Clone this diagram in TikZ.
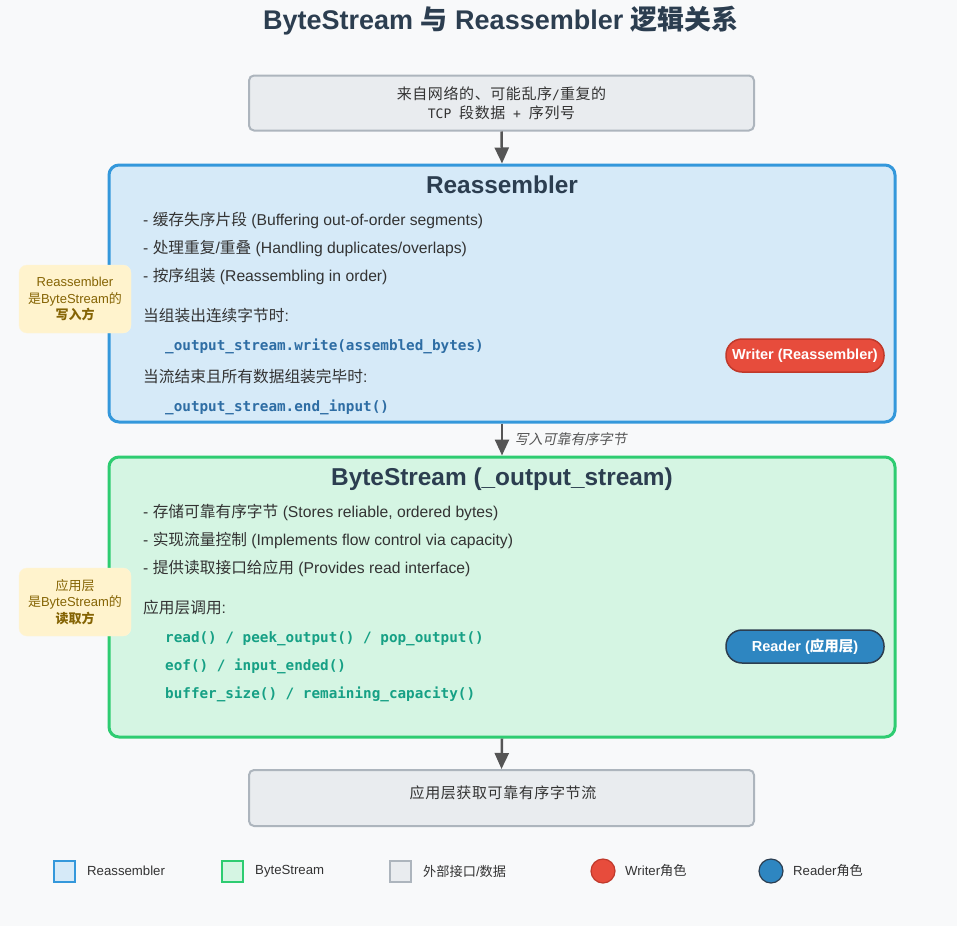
\documentclass[tikz,border=0pt]{standalone}
\usepackage{fontspec}
\setmainfont{Liberation Sans}
\setmonofont{DejaVu Sans Mono}
\newfontfamily\cjk{Noto Sans CJK SC}
\newfontfamily\cjkmono{Noto Sans CJK SC}[LetterSpace=4]
\newfontfamily\cjkit{Noto Sans CJK SC}[FakeSlant=0.2]
\newcommand\zh[1]{{\cjk #1}}
\newcommand\zm[1]{{\fontsize{15}{19}\cjkmono #1}}
\usetikzlibrary{arrows.meta}
\definecolor{bgc}{HTML}{F8F9FA}
\definecolor{titlec}{HTML}{2C3E50}
\definecolor{extf}{HTML}{E9ECEF}
\definecolor{extb}{HTML}{ADB5BD}
\definecolor{reaf}{HTML}{D6EAF8}
\definecolor{reab}{HTML}{3498DB}
\definecolor{bsf}{HTML}{D5F5E3}
\definecolor{bsb}{HTML}{2ECC71}
\definecolor{notef}{HTML}{FFF3CD}
\definecolor{notec}{HTML}{856404}
\definecolor{wrf}{HTML}{E74C3C}
\definecolor{wrb}{HTML}{C0392B}
\definecolor{rdf}{HTML}{2E86C1}
\definecolor{rdb}{HTML}{2C3E50}
\definecolor{arrc}{HTML}{555555}
\definecolor{bodyc}{HTML}{333333}
\definecolor{codeblue}{HTML}{2E6DA4}
\definecolor{codegreen}{HTML}{16A085}
\tikzset{
  extbox/.style={draw=extb, fill=extf, line width=2pt, rounded corners=5pt, minimum width=505pt, inner sep=0pt},
  bigbox/.style={line width=3pt, rounded corners=10pt, minimum width=786pt, inner sep=0pt},
  secttl/.style={font=\fontsize{24.4}{28}\selectfont\bfseries, text=titlec, anchor=base},
  txt/.style={font=\fontsize{15.7}{18}\selectfont, text=bodyc, anchor=base west, inner sep=0pt},
  codeb/.style={font=\ttfamily\bfseries\fontsize{14.3}{18}\selectfont, text=codeblue, anchor=base west, inner sep=0pt},
  codeg/.style={font=\ttfamily\bfseries\fontsize{14.3}{18}\selectfont, text=codegreen, anchor=base west, inner sep=0pt},
  pillbox/.style={line width=1.5pt, rounded corners=16pt, minimum width=158pt, minimum height=33pt, inner sep=0pt, text=white, font=\fontsize{14.5}{17}\selectfont\bfseries},
  notebox/.style={fill=notef, draw=notef!80!white, rounded corners=8pt, minimum width=112pt, minimum height=68pt, inner sep=0pt, align=center, text=notec, font=\fontsize{13}{16.5}\selectfont},
  arr/.style={-{Triangle[length=16pt,width=14pt]}, line width=2.5pt, draw=arrc},
  legsq/.style={line width=2pt, minimum width=21pt, minimum height=21pt, inner sep=0pt},
  legdot/.style={circle, line width=1.2pt, minimum size=24pt, inner sep=0pt},
  legtxt/.style={font=\fontsize{13.2}{16}\selectfont, text=bodyc, anchor=west, inner sep=0pt}
}
\begin{document}
\begin{tikzpicture}[x=1pt,y=-1pt]
\useasboundingbox[fill=bgc] (0,0) rectangle (957,926);

\node[font=\fontsize{27}{31}\selectfont\bfseries, text=titlec, anchor=base] (title) at (501,29.5) {ByteStream \zh{与} Reassembler \zh{逻辑关系}};

% source box
\node[extbox, minimum height=55pt, align=center, text=bodyc, font=\ttfamily\fontsize{13}{19}\selectfont] (src) at (501.5,103) {\zm{来自网络的、可能乱序}/\zm{重复的}\\TCP \zm{段数据} + \zm{序列号}};

% Reassembler box
\node[bigbox, draw=reab, fill=reaf, minimum height=257pt] (rea) at (502,293.5) {};
\node[secttl] (reattl) at (502,193) {Reassembler};
\node[txt] (r1) at (143,225.5) {- \zh{缓存失序片段} (Buffering out-of-order segments)};
\node[txt] (r2) at (143,253.5) {- \zh{处理重复}/\zh{重叠} (Handling duplicates/overlaps)};
\node[txt] (r3) at (143,281.5) {- \zh{按序组装} (Reassembling in order)};
\node[txt] (r4) at (143,321.5) {\zh{当组装出连续字节时}:};
\node[codeb] (r5) at (165,350) {\_output\_stream.write(assembled\_bytes)};
\node[txt] (r6) at (143,382.5) {\zh{当流结束且所有数据组装完毕时}:};
\node[codeb] (r7) at (165,411) {\_output\_stream.end\_input()};
\node[pillbox, fill=wrf, draw=wrb] (writer) at (805,355.5) {Writer (Reassembler)};
\node[notebox] (note1) at (75,299) {Reassembler\\\zh{是}ByteStream\zh{的}\\\textbf{\zh{写入方}}};

% ByteStream box
\node[bigbox, draw=bsb, fill=bsf, minimum height=280pt] (bs) at (502,597) {};
\node[secttl] (bsttl) at (502,485) {ByteStream (\_output\_stream)};
\node[txt] (b1) at (143,517.5) {- \zh{存储可靠有序字节} (Stores reliable, ordered bytes)};
\node[txt] (b2) at (143,545.5) {- \zh{实现流量控制} (Implements flow control via capacity)};
\node[txt] (b3) at (143,573.5) {- \zh{提供读取接口给应用} (Provides read interface)};
\node[txt] (b4) at (143,613.5) {\zh{应用层调用}:};
\node[codeg] (b5) at (165,642) {read() / peek\_output() / pop\_output()};
\node[codeg] (b6) at (165,670) {eof() / input\_ended()};
\node[codeg] (b7) at (165,698) {buffer\_size() / remaining\_capacity()};
\node[pillbox, fill=rdf, draw=rdb] (reader) at (805,646.5) {Reader (\zh{应用层})};
\node[notebox] (note2) at (75,602) {\zh{应用层}\\\zh{是}ByteStream\zh{的}\\\textbf{\zh{读取方}}};

% sink box
\node[extbox, minimum height=56pt] (sink) at (501.5,798) {};
\node[font=\fontsize{13}{16}\selectfont, text=bodyc, anchor=base] (sinktxt) at (503,798.5) {\zm{应用层获取可靠有序字节流}};

% arrows
\draw[arr] (src.south) -- (rea.north);
\draw[arr] (rea.south) -- (bs.north) node[midway, right=8pt, font=\fontsize{14}{16}\selectfont\cjkit, text=arrc] (lbl) {写入可靠有序字节};
\draw[arr] (bs.south) -- (sink.north);

% legend
\node[legsq, draw=reab, fill=reaf] (lg1) at (64,871) {};
\node[legtxt] (lt1) at (87,871) {Reassembler};
\node[legsq, draw=bsb, fill=bsf] (lg2) at (232,871) {};
\node[legtxt] (lt2) at (255,871) {ByteStream};
\node[legsq, draw=extb, fill=extf] (lg3) at (400,871) {};
\node[legtxt] (lt3) at (423,871) {\zh{外部接口}/\zh{数据}};
\node[legdot, fill=wrf, draw=wrb] (lg4) at (603,871) {};
\node[legtxt] (lt4) at (625,871) {Writer\zh{角色}};
\node[legdot, fill=rdf, draw=rdb] (lg5) at (771,871) {};
\node[legtxt] (lt5) at (793,871) {Reader\zh{角色}};
\end{tikzpicture}
\end{document}
